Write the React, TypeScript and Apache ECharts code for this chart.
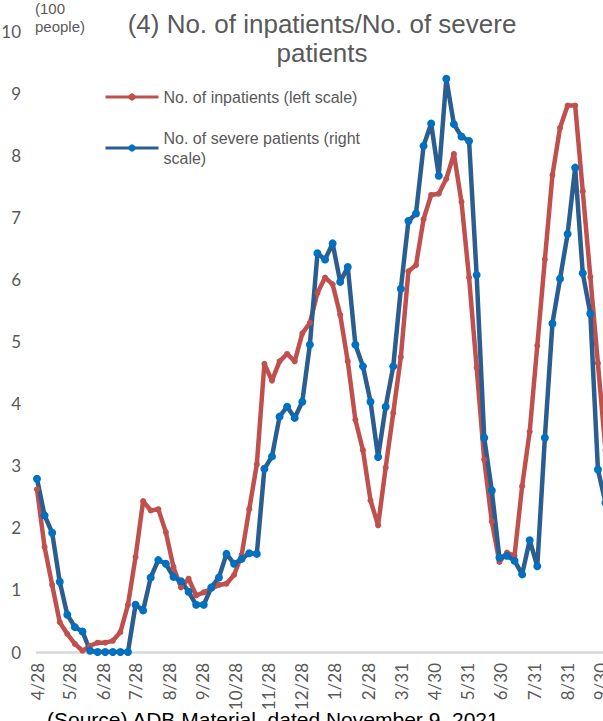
import React, { useEffect, useRef } from 'react';
import * as echarts from 'echarts';

// Weekly observations starting 2020-04-28
const START_DATE = '2020-04-28';
const DAY_COUNT = 526;

const TICK_DATES = [
  '2020-04-28', '2020-05-28', '2020-06-28', '2020-07-28', '2020-08-28', '2020-09-28',
  '2020-10-28', '2020-11-28', '2020-12-28', '2021-01-28', '2021-02-28', '2021-03-31',
  '2021-04-30', '2021-05-31', '2021-06-30', '2021-07-31', '2021-08-31', '2021-09-30',
];

// No. of inpatients (left scale, 100 people)
const INPATIENTS = [
  2.62, 1.69, 1.08, 0.48, 0.29, 0.13, 0.02, 0.10, 0.15, 0.15,
  0.18, 0.32, 0.76, 1.53, 2.43, 2.28, 2.30, 1.93, 1.37, 1.04,
  1.18, 0.91, 0.96, 1.02, 1.08, 1.10, 1.24, 1.56, 2.30, 3.02,
  4.64, 4.37, 4.68, 4.80, 4.68, 5.13, 5.30, 5.78, 6.03, 5.92,
  5.43, 4.68, 3.74, 3.25, 2.44, 2.04, 2.97, 3.85, 4.75, 6.13,
  6.23, 6.97, 7.36, 7.38, 7.62, 8.02, 7.25, 6.03, 4.58, 3.10,
  2.10, 1.45, 1.60, 1.55, 2.67, 3.55, 4.93, 6.32, 7.68, 8.44,
  8.80, 8.80, 7.42, 6.04, 4.65, 3.25,
];

// No. of severe patients (right scale, drawn in chart units)
const SEVERE = [
  2.79, 2.20, 1.92, 1.13, 0.60, 0.40, 0.33, 0.02, 0, 0,
  0, 0, 0, 0.76, 0.67, 1.20, 1.48, 1.42, 1.21, 1.14,
  0.97, 0.76, 0.76, 1.04, 1.20, 1.58, 1.42, 1.50, 1.59, 1.58,
  2.95, 3.15, 3.79, 3.95, 3.77, 4.03, 4.95, 6.42, 6.32, 6.58,
  5.96, 6.20, 4.95, 4.60, 4.03, 3.14, 3.95, 4.60, 5.85, 6.94,
  7.06, 8.15, 8.51, 7.67, 9.23, 8.50, 8.30, 8.23, 6.07, 3.45,
  2.60, 1.52, 1.55, 1.47, 1.25, 1.80, 1.38, 3.45, 5.29, 6.01,
  6.73, 7.80, 6.10, 5.45, 2.94, 2.40,
];

const NAME_IN = 'No. of inpatients (left scale)';
const NAME_SEV = 'No. of severe patients (right scale)';

function addDays(iso: string, n: number): string {
  const d = new Date(iso + 'T00:00:00Z');
  d.setUTCDate(d.getUTCDate() + n);
  return d.toISOString().slice(0, 10);
}

export default function App() {
  const ref = useRef<HTMLDivElement>(null);

  useEffect(() => {
    if (!ref.current) return;
    const chart = echarts.init(ref.current, null, { renderer: 'svg' });
    const days = Array.from({ length: DAY_COUNT }, (_, i) => addDays(START_DATE, i));
    const weekDates = INPATIENTS.map((_, k) => addDays(START_DATE, 7 * k));
    const tickSet = new Set(TICK_DATES);
    const axisFont = "Lato, 'Open Sans', sans-serif";
    const textFont = "'Liberation Sans', Arial, sans-serif";

    const option: any = {
      animation: false,
      backgroundColor: '#ffffff',
      title: [
        {
          text: '(4) No. of inpatients/No. of severe\npatients',
          left: 322,
          top: 9,
          padding: 0,
          textAlign: 'center',
          textStyle: {
            fontFamily: textFont,
            fontSize: 26,
            fontWeight: 'normal',
            color: '#595959',
            lineHeight: 29,
          },
        },
        {
          text: '(100\npeople)',
          left: 35,
          top: -1,
          padding: 0,
          textStyle: {
            fontFamily: textFont,
            fontSize: 15,
            fontWeight: 'normal',
            color: '#595959',
            lineHeight: 18,
          },
        },
        {
          text: '(Source) ADB Material, dated November 9, 2021',
          left: 47,
          top: 709,
          padding: 0,
          textStyle: {
            fontFamily: textFont,
            fontSize: 21,
            fontWeight: 'normal',
            color: '#000000',
            lineHeight: 21,
          },
        },
      ],
      legend: [
        {
          data: [NAME_IN],
          left: 104,
          top: 89,
          padding: 0,
          itemWidth: 53,
          itemHeight: 9,
          lineStyle: { width: 3 },
          textStyle: { fontFamily: textFont, fontSize: 16, color: '#595959' },
        },
        {
          data: [NAME_SEV],
          left: 104,
          top: 128,
          padding: 0,
          itemWidth: 53,
          itemHeight: 9,
          lineStyle: { width: 3 },
          formatter: () => 'No. of severe patients (right\nscale)',
          textStyle: { fontFamily: textFont, fontSize: 16, color: '#595959', lineHeight: 20 },
        },
      ],
      grid: {
        left: 37,
        right: -2.5,
        top: 31,
        bottom: 69,
        containLabel: false,
        outerBoundsMode: 'none',
      },
      xAxis: {
        type: 'category',
        data: days,
        boundaryGap: false,
        axisLine: { show: true, lineStyle: { color: '#d9d9d9', width: 2.5 } },
        axisTick: { show: false },
        splitLine: { show: false },
        axisLabel: {
          rotate: 90,
          margin: 11,
          color: '#595959',
          fontFamily: axisFont,
          fontSize: 17,
          interval: (_index: number, value: string) => tickSet.has(value),
          formatter: (value: string) => {
            const [, m, d] = value.split('-');
            return `${parseInt(m, 10)}/${parseInt(d, 10)}`;
          },
        },
      },
      yAxis: [
        {
          type: 'value',
          min: 0,
          max: 10,
          interval: 1,
          axisLine: { show: false },
          axisTick: { show: false },
          splitLine: { show: false },
          axisLabel: {
            margin: 16,
            color: '#595959',
            fontFamily: axisFont,
            fontSize: 17,
            padding: [8, 0, 0, 0],
          },
        },
        {
          type: 'value',
          min: 0,
          max: 10,
          interval: 1,
          show: false,
        },
      ],
      series: [
        {
          name: NAME_IN,
          type: 'line',
          yAxisIndex: 0,
          data: weekDates.map((d, k) => [d, INPATIENTS[k]]),
          symbol: 'circle',
          symbolSize: 6,
          showAllSymbol: true,
          lineStyle: { color: '#c0504d', width: 4.5 },
          itemStyle: { color: '#c0504d' },
        },
        {
          name: NAME_SEV,
          type: 'line',
          yAxisIndex: 1,
          data: weekDates.map((d, k) => [d, SEVERE[k]]),
          symbol: 'circle',
          symbolSize: 8,
          showAllSymbol: true,
          lineStyle: { color: '#2a5e91', width: 4.5 },
          itemStyle: { color: '#0070c0' },
        },
      ],
    };

    chart.setOption(option);
    return () => chart.dispose();
  }, []);

  return (
    <div
      ref={ref}
      style={{ position: 'fixed', left: 0, top: 0, width: 603, height: 721, overflow: 'hidden' }}
    />
  );
}
